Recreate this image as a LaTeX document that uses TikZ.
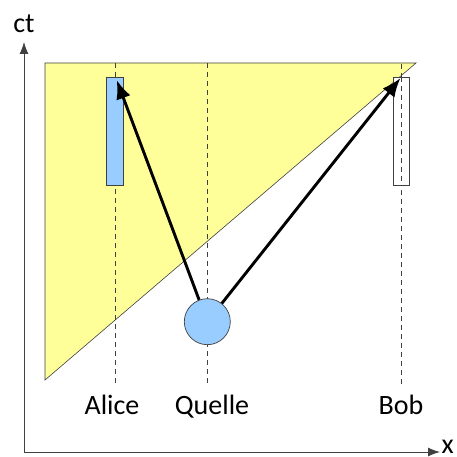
\documentclass[tikz,border=0pt]{standalone}
\usepackage{fontspec}
\setmainfont{Carlito}
\usetikzlibrary{arrows.meta}
\definecolor{yel}{HTML}{FFFF99}
\definecolor{lblue}{HTML}{99CCFF}
\definecolor{edgegray}{HTML}{404040}
\begin{document}
\begin{tikzpicture}[x=1pt,y=-1pt,
  axis/.style={draw=edgegray, line width=0.9pt, -{Latex[length=12pt,width=9pt]}},
  guide/.style={draw=edgegray, line width=0.7pt, dash pattern=on 5pt off 4pt},
  lbl/.style={font=\fontsize{28}{32}\selectfont, inner sep=0pt, anchor=base},
  signal/.style={draw=black, line width=2.9pt, -{Latex[length=19pt,width=15pt]}},
  detector/.style={draw=edgegray, line width=0.7pt, minimum width=16.5pt, minimum height=108pt, inner sep=0pt},
  sourcenode/.style={circle, draw=edgegray, line width=0.7pt, fill=lblue, minimum size=46pt, inner sep=0pt}
]
\useasboundingbox (0,0) rectangle (456,457);
% light cone
\filldraw[fill=yel, draw=edgegray, line width=0.6pt] (45,63) -- (416,63) -- (45,380) -- cycle;
% axes
\coordinate (origin) at (24,452);
\coordinate (ctend) at (24,42);
\coordinate (xend) at (440,452);
\draw[axis] (origin) -- (ctend);
\draw[axis] (origin) -- (xend);
\node[lbl] (ctlabel) at (24,33) {ct};
\node[lbl, anchor=base west] (xlabel) at (441.5,453) {x};
% world lines
\coordinate (aTop) at (115.5,63);
\coordinate (aBot) at (115.5,386);
\coordinate (qTop) at (207.3,63);
\coordinate (qBot) at (207.3,386);
\coordinate (bTop) at (401.7,64);
\coordinate (bBot) at (401.7,386);
\draw[guide] (aTop) -- (aBot);
\draw[guide] (qTop) -- (qBot);
\draw[guide] (bTop) -- (bBot);
% detectors
\node[detector, fill=lblue] (alice) at (115,131.5) {};
\node[detector, fill=white] (bob) at (401.4,131.5) {};
\draw[guide] (bob.north) -- (bob.south);
% source
\node[sourcenode] (quelle) at (207.3,321.7) {};
% signals
\coordinate (aTip) at (116.7,80);
\coordinate (bTip) at (400.5,78);
\draw[signal] (quelle) -- (aTip);
\draw[signal] (quelle) -- (bTip);
% labels
\node[lbl] (alicelabel) at (112,414) {Alice};
\node[lbl] (quellelabel) at (212,414) {Quelle};
\node[lbl] (boblabel) at (401,414) {Bob};
\end{tikzpicture}
\end{document}
